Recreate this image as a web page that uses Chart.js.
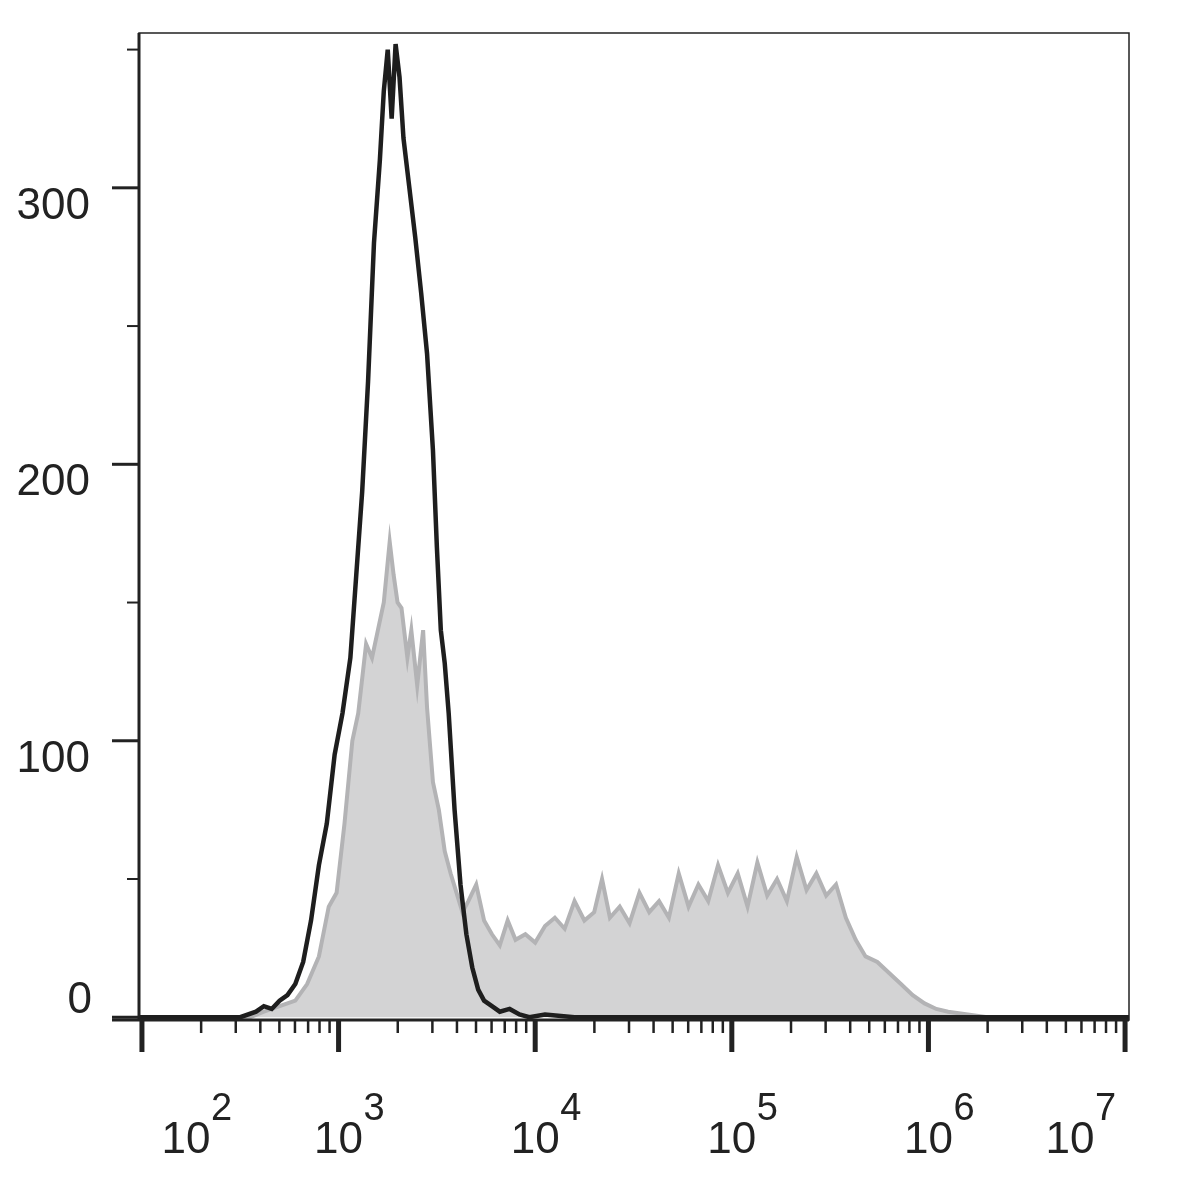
<!DOCTYPE html>
<html>
<head>
<meta charset="utf-8">
<script src="https://cdn.jsdelivr.net/npm/chart.js@4/dist/chart.umd.min.js"></script>
<style>
  html, body { margin: 0; padding: 0; background: #fff; }
  #wrap { width: 1204px; height: 1182px; }
</style>
</head>
<body>
<div id="wrap"><canvas id="histChart" width="1204" height="1182"></canvas></div>
<script>
// x values are log10 of fluorescence intensity
const controlX = [1.985, 2.5, 2.58, 2.62, 2.66, 2.7, 2.74, 2.78, 2.82, 2.86, 2.9, 2.94, 2.98, 3.02, 3.06, 3.09, 3.12, 3.15, 3.18, 3.21, 3.23, 3.25, 3.27, 3.29, 3.31, 3.33, 3.36, 3.39, 3.42, 3.45, 3.48, 3.5, 3.52, 3.54, 3.56, 3.59, 3.62, 3.65, 3.68, 3.71, 3.74, 3.78, 3.82, 3.87, 3.92, 3.97, 4.05, 4.2, 4.5, 5.0, 6.0, 7.02];
const controlY = [0, 0, 2, 4, 3, 6, 8, 12, 20, 35, 55, 70, 95, 110, 130, 160, 190, 230, 280, 310, 335, 350, 325, 352, 340, 318, 300, 282, 262, 240, 205, 170, 140, 128, 110, 75, 48, 30, 18, 10, 6, 4, 2, 3, 1, 0, 1, 0, 0, 0, 0, 0];

const sampleX = [1.985, 2.55, 2.62, 2.7, 2.78, 2.84, 2.9, 2.95, 2.99, 3.03, 3.07, 3.1, 3.14, 3.17, 3.2, 3.23, 3.26, 3.28, 3.3, 3.32, 3.35, 3.37, 3.4, 3.43, 3.45, 3.48, 3.51, 3.54, 3.57, 3.6, 3.63, 3.66, 3.7, 3.74, 3.78, 3.82, 3.86, 3.9, 3.95, 4.0, 4.05, 4.1, 4.15, 4.2, 4.25, 4.3, 4.34, 4.38, 4.43, 4.48, 4.53, 4.58, 4.63, 4.68, 4.73, 4.78, 4.83, 4.88, 4.93, 4.98, 5.03, 5.08, 5.13, 5.18, 5.23, 5.28, 5.33, 5.38, 5.43, 5.48, 5.53, 5.58, 5.63, 5.68, 5.74, 5.8, 5.86, 5.92, 5.98, 6.04, 6.1, 6.2, 6.3, 7.02];
const sampleY = [0, 0, 2, 4, 6, 12, 22, 40, 45, 70, 100, 110, 135, 130, 140, 150, 172, 160, 150, 148, 130, 140, 120, 140, 112, 85, 75, 60, 52, 45, 38, 42, 48, 35, 30, 26, 35, 28, 30, 27, 33, 36, 32, 42, 35, 38, 50, 36, 40, 34, 45, 38, 42, 36, 52, 40, 48, 42, 55, 45, 52, 40, 56, 44, 50, 42, 58, 46, 52, 44, 48, 36, 28, 22, 20, 16, 12, 8, 5, 3, 2, 1, 0, 0];

const yTickValues = [0, 100, 200, 300];
const decades = [2, 3, 4, 5, 6, 7];

const toPoints = (xs, ys) => xs.map((x, i) => ({ x: x, y: ys[i] }));

const axesPlugin = {
  id: 'flowAxes',
  afterDraw(chart) {
    const ctx = chart.ctx;
    const xs = chart.scales.x, ys = chart.scales.y;
    const a = chart.chartArea;
    ctx.save();
    ctx.strokeStyle = '#222';
    ctx.fillStyle = '#222';
    // frame
    ctx.lineWidth = 1.5;
    ctx.strokeRect(a.left, a.top, a.right - a.left, a.bottom - a.top);
    ctx.lineWidth = 3;
    ctx.beginPath();
    ctx.moveTo(a.left, a.top); ctx.lineTo(a.left, a.bottom);
    ctx.moveTo(112, a.bottom); ctx.lineTo(a.right, a.bottom);
    ctx.stroke();
    // y ticks
    for (let v = 0; v <= 350; v += 50) {
      const py = ys.getPixelForValue(v);
      ctx.lineWidth = v % 100 === 0 ? 3 : 2;
      ctx.beginPath();
      ctx.moveTo(v % 100 === 0 ? 112 : 127, py);
      ctx.lineTo(a.left, py);
      ctx.stroke();
    }
    ctx.font = '44px "Liberation Sans", Arial, sans-serif';
    ctx.textAlign = 'right';
    ctx.textBaseline = 'middle';
    yTickValues.forEach(v => {
      const py = ys.getPixelForValue(v);
      ctx.fillText(String(v), v === 0 ? 92 : 90, v === 0 ? py - 16 : py + 19);
    });
    // x ticks
    for (let d = 2; d <= 7; d++) {
      for (let k = 1; k <= 9; k++) {
        const e = d + Math.log10(k);
        if (e < xs.min || e > xs.max) continue;
        const px = xs.getPixelForValue(e);
        const major = k === 1;
        ctx.lineWidth = major ? 5 : 2.5;
        ctx.beginPath();
        ctx.moveTo(px, a.bottom);
        ctx.lineTo(px, a.bottom + (major ? 32 : 13));
        ctx.stroke();
        if (d === 7) break;
      }
    }
    // x labels 10^n
    ctx.textBaseline = 'alphabetic';
    decades.forEach(d => {
      let cx = xs.getPixelForValue(d);
      cx = Math.min(Math.max(cx, 186), 1070);
      ctx.font = '44px "Liberation Sans", Arial, sans-serif';
      ctx.textAlign = 'center';
      ctx.fillText('10', cx, 1153);
      ctx.font = '38px "Liberation Sans", Arial, sans-serif';
      ctx.textAlign = 'left';
      ctx.fillText(String(d), cx + 25, 1120);
    });
    ctx.restore();
  }
};

new Chart(document.getElementById('histChart'), {
  type: 'line',
  data: {
    datasets: [
      {
        label: 'Control',
        data: toPoints(controlX, controlY),
        borderColor: '#1e1e1e',
        borderWidth: 4.5,
        fill: false,
        pointRadius: 0,
        tension: 0,
        order: 1
      },
      {
        label: 'Sample',
        data: toPoints(sampleX, sampleY),
        borderColor: '#b3b3b5',
        backgroundColor: '#d3d3d4',
        borderWidth: 4,
        fill: 'origin',
        pointRadius: 0,
        tension: 0,
        order: 2
      }
    ]
  },
  options: {
    responsive: false,
    animation: false,
    layout: { padding: { left: 139, top: 33, right: 75, bottom: 162 } },
    plugins: { legend: { display: false }, tooltip: { enabled: false } },
    scales: {
      x: { type: 'linear', min: 1.985, max: 7.02, display: false },
      y: { type: 'linear', min: -1, max: 356, display: false }
    }
  },
  plugins: [axesPlugin]
});
</script>
</body>
</html>
